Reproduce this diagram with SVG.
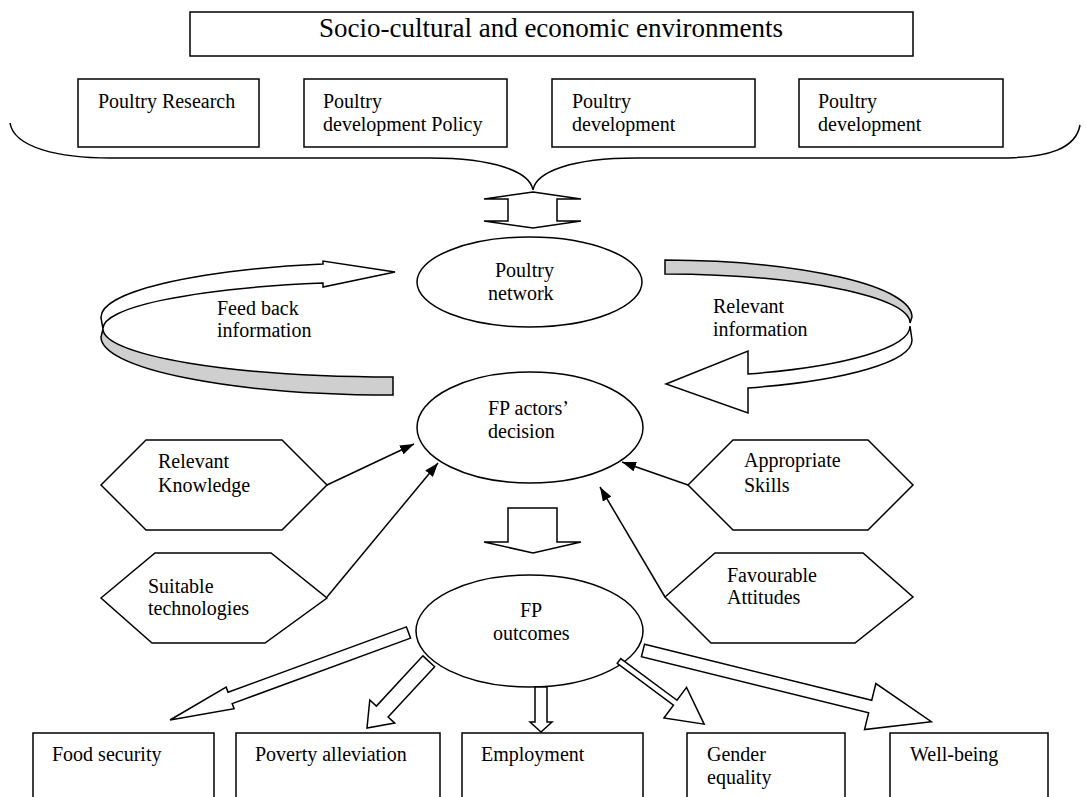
<svg xmlns="http://www.w3.org/2000/svg" width="1086" height="797" viewBox="0 0 1086 797">
<style>
.bx{fill:#fff;stroke:#000;stroke-width:1.5}
.ln{fill:none;stroke:#000;stroke-width:1.5}
.ba{fill:#fff;stroke:#000;stroke-width:1.5;stroke-linejoin:miter}
.gr{fill:#cfcfcf;stroke:#000;stroke-width:1.5}
.t{font-family:"Liberation Serif","Times New Roman",serif;font-size:20px;fill:#000}
.tt{font-family:"Liberation Serif","Times New Roman",serif;font-size:27px;fill:#000}
</style>
<defs>
<marker id="ah" viewBox="0 0 14 10" refX="14" refY="5" markerWidth="14" markerHeight="10" markerUnits="userSpaceOnUse" orient="auto">
<path d="M0,0 L14,5 L0,10 Z" fill="#000"/>
</marker>
</defs>
<rect width="1086" height="797" fill="#fff"/>

<g id="title">
<rect class="bx" x="190" y="12" width="723" height="44"/>
<text class="tt" x="551" y="37" text-anchor="middle">Socio-cultural and economic environments</text>
</g>
<g id="research">
<rect class="bx" x="78" y="79" width="181" height="68"/>
<text class="t" x="98" y="108">Poultry Research</text>
</g>
<g id="policy">
<rect class="bx" x="304" y="79" width="203" height="68"/>
<text class="t" x="323" y="108">Poultry</text>
<text class="t" x="323" y="131">development Policy</text>
</g>
<g id="dev1">
<rect class="bx" x="552" y="79" width="203" height="68"/>
<text class="t" x="572" y="108">Poultry</text>
<text class="t" x="572" y="131">development</text>
</g>
<g id="dev2">
<rect class="bx" x="799" y="79" width="204" height="68"/>
<text class="t" x="818" y="108">Poultry</text>
<text class="t" x="818" y="131">development</text>
</g>
<g id="brace">
<path class="ln" d="M10,123 C14,148 60,158 110,158 L430,158 C495,158 530,172 533,190 C536,172 571,158 636,158 L1000,158 C1050,158 1076,148 1080,125"/>
</g>

<g id="network">
<ellipse class="bx" cx="529.5" cy="282" rx="112.5" ry="45"/>
<text class="t" x="495" y="277">Poultry</text>
<text class="t" x="488" y="300">network</text>
</g>
<g id="decision">
<ellipse class="bx" cx="530" cy="427.5" rx="113" ry="55.5"/>
<text class="t" x="488" y="415">FP actors’</text>
<text class="t" x="488" y="438">decision</text>
</g>
<g id="outcomes">
<ellipse class="bx" cx="529.5" cy="631" rx="113.5" ry="56"/>
<text class="t" x="520" y="617">FP</text>
<text class="t" x="493" y="640">outcomes</text>
</g>

<g id="knowledge">
<polygon class="bx" points="101,485 146,440 282,440 327,485 282,530 146,530"/>
<text class="t" x="158" y="468">Relevant</text>
<text class="t" x="158" y="492">Knowledge</text>
</g>
<g id="technologies">
<polygon class="bx" points="101,598 155,553 271,553 327,598 265,643 152,643"/>
<text class="t" x="148" y="593">Suitable</text>
<text class="t" x="148" y="615">technologies</text>
</g>
<g id="skills">
<polygon class="bx" points="688,485 733,440 868,440 913,485 868,530 733,530"/>
<text class="t" x="744" y="467">Appropriate</text>
<text class="t" x="744" y="492">Skills</text>
</g>
<g id="attitudes">
<polygon class="bx" points="665,597 715,553 863,553 913,597 855,643 711,643"/>
<text class="t" x="727" y="582">Favourable</text>
<text class="t" x="727" y="604">Attitudes</text>
</g>

<g id="food">
<rect class="bx" x="33" y="733" width="181" height="90"/>
<text class="t" x="52" y="761">Food security</text>
</g>
<g id="poverty">
<rect class="bx" x="236" y="733" width="204" height="90"/>
<text class="t" x="255" y="761">Poverty alleviation</text>
</g>
<g id="employment">
<rect class="bx" x="462" y="733" width="181" height="90"/>
<text class="t" x="481" y="761">Employment</text>
</g>
<g id="gender">
<rect class="bx" x="687" y="733" width="158" height="90"/>
<text class="t" x="707" y="761">Gender</text>
<text class="t" x="707" y="784">equality</text>
</g>
<g id="wellbeing">
<rect class="bx" x="890" y="733" width="158" height="90"/>
<text class="t" x="910" y="761">Well-being</text>
</g>

<g id="connectors">
<polygon class="ba" points="533,192 581,199 557,199 557,221 581,221 533,228 484,221 508,221 508,199 484,199"/>
<g id="feedback">
<path class="gr" d="M103,329 A290,48 0 0 0 393,377 L393,395 A292,58 0 0 1 101,337 Z"/>
<path class="ba" d="M101,318 A294,55 0 0 1 323,264 L323,261 L395,272 L323,287 L323,283 A292,47 0 0 0 103,329 Z"/>
<text class="t" x="217" y="315">Feed back</text>
<text class="t" x="217" y="337">information</text>
</g>
<g id="relevantinfo">
<path class="gr" d="M665,260 A252,57 0 0 1 912,317 L910,323 A250,49 0 0 0 665,274 Z"/>
<path class="ba" d="M910,326 A250,51 0 0 1 748,374 L748,351 L666,384 L748,413 L748,388 A252,51 0 0 0 912,340 Z"/>
<text class="t" x="713" y="313">Relevant</text>
<text class="t" x="713" y="336">information</text>
</g>
<line class="ln" x1="327" y1="485" x2="414" y2="444" marker-end="url(#ah)"/>
<line class="ln" x1="327" y1="597" x2="438" y2="463" marker-end="url(#ah)"/>
<line class="ln" x1="688" y1="485" x2="622" y2="462" marker-end="url(#ah)"/>
<line class="ln" x1="665" y1="597" x2="600" y2="487" marker-end="url(#ah)"/>
<polygon class="ba" points="508,508 557,508 557,542 581,542 533,553 484,542 508,542"/>
<path class="ba" transform="translate(408.5,632.5) rotate(159.85)" d="M0,-6 L190,-6 L190,-11.5 L254,0 L190,11.5 L190,6 L0,6 Z"/>
<path class="ba" transform="translate(428.8,661.3) rotate(132.8)" d="M0,-8 L68.5,-8 L68.5,-17 L91,0 L68.5,17 L68.5,8 L0,8 Z"/>
<path class="ba" transform="translate(541,687) rotate(90)" d="M0,-6 L35,-6 L35,-11 L45,0 L35,11 L35,6 L0,6 Z"/>
<path class="ba" transform="translate(619,661) rotate(36.55)" d="M0,-3 L70,-3 L70,-19 L106,0 L70,19 L70,3 L0,3 Z"/>
<path class="ba" transform="translate(643,650.5) rotate(13.86)" d="M0,-6.5 L234,-6.5 L234,-23.7 L297,0 L234,23.7 L234,6.5 L0,6.5 Z"/>
</g>
</svg>
